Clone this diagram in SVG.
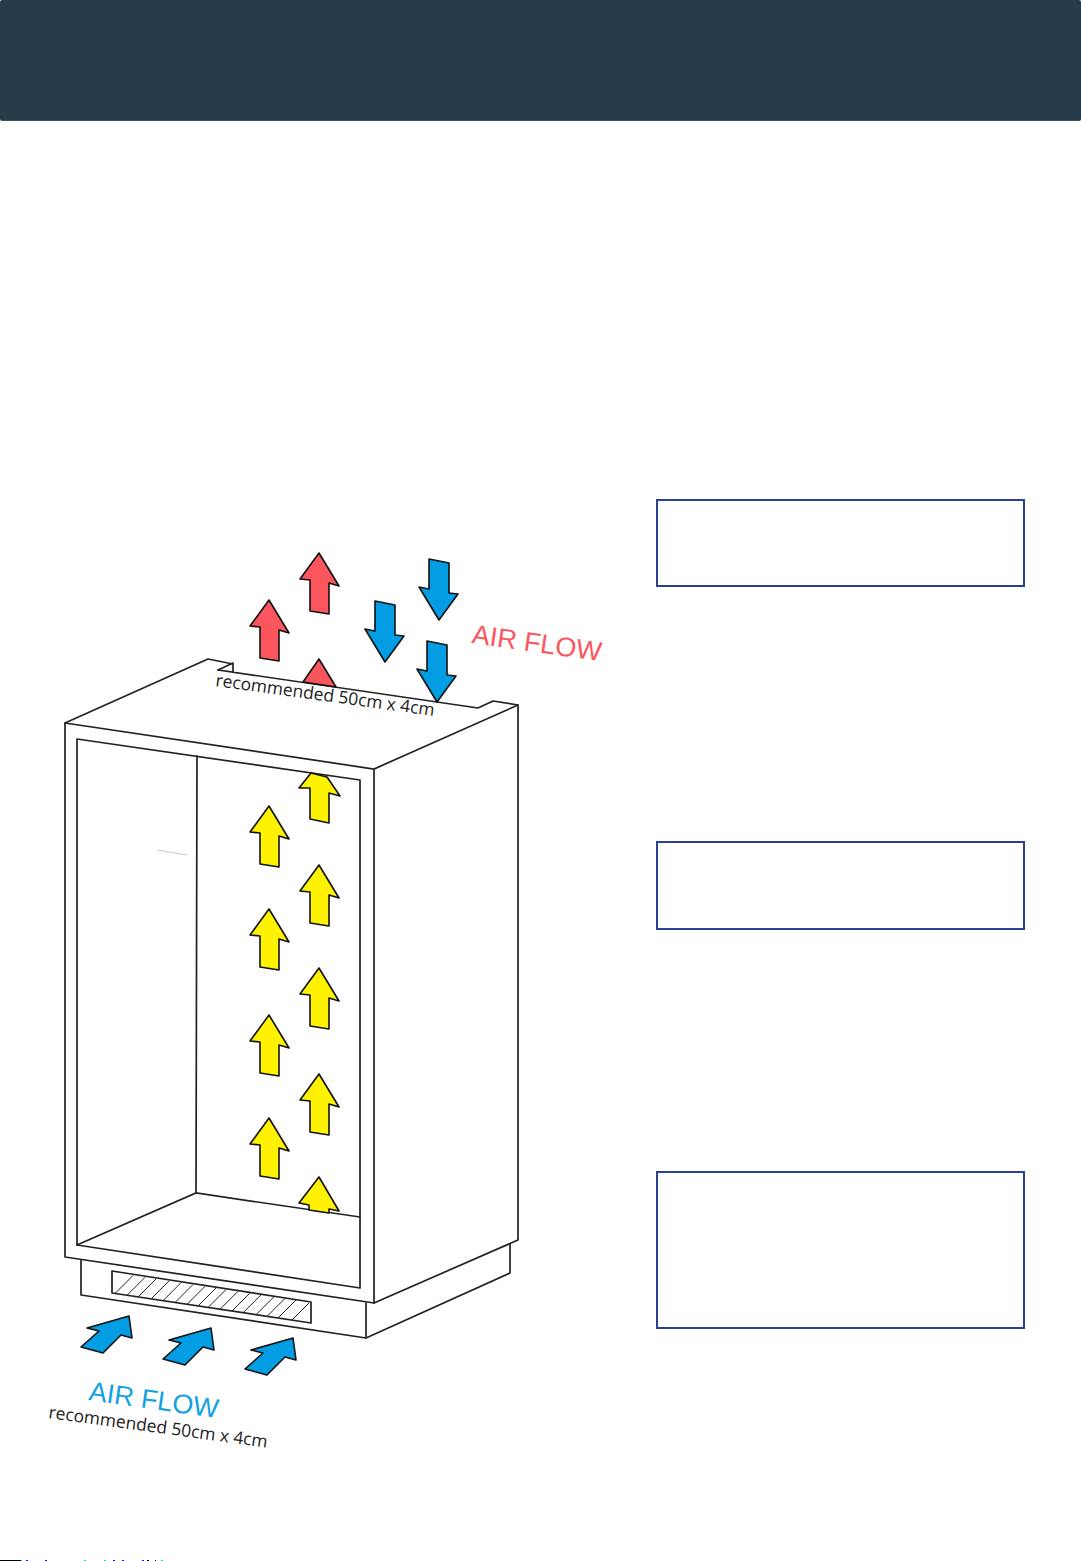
<svg xmlns="http://www.w3.org/2000/svg" width="1081" height="1561" viewBox="0 0 1081 1561">
<style>
.ln{fill:#fff;stroke:#222;stroke-width:1.7;stroke-linejoin:round}
.o{fill:none;stroke:#222;stroke-width:1.7;stroke-linecap:round}
.h{fill:none;stroke:#222;stroke-width:1}
.ar{stroke:#111;stroke-width:1.6;stroke-linejoin:round}
.red{fill:#fb565e}.blue{fill:#029de3}.yel{fill:#fff200}
.box{fill:#fff;stroke:#2a4093;stroke-width:2}
.af{font-family:"Liberation Sans",Arial,sans-serif;font-size:27px}
.rec{font-family:"Open Sans",sans-serif;font-size:17.4px;fill:#222}
</style>
<defs>
<polygon id="up" points="0,0 -19,26 -9,27 -9,58 10,61 10,30 20,33"/>
<polygon id="down" points="-10,-61 10,-57 10,-27 19,-26 0,0 -20,-33 -10,-31"/>
<polygon id="in" points="0,0 3,22 -8,19 -26,37 -48,31 -30,15 -42,12"/>
</defs>
<rect id="header" x="0" y="0" width="1081" height="121" rx="2" fill="#263b49"/>
<path d="M2,120.5H1079" stroke="#3e5462" stroke-width="1"/>
<g id="cabinet">
<polygon class="ln" points="81,1255 81,1295 366,1338 510,1273 510,1238 366,1300"/>
<path class="o" d="M366,1303V1338"/>
<polygon class="ln" points="65,723 208,659 233,664 233,672 218,670 478,708 493,701 518,705 518,1240 374,1303 65,1257"/>
<path class="o" d="M65,723L374,769L518,705M374,769V1303"/>
<path class="o" d="M218,670L233,663"/>
<polygon class="ln" points="77,739 360,780 360,1288 77,1245"/>
<path class="o" d="M197,756L196,1193M77,1245L196,1193L360,1217"/>
<path d="M157,850L187,855" fill="none" stroke="#c8c8c8" stroke-width="1"/>
</g>
<g id="grille">
<polygon class="ln" points="112,1271 112,1293 311,1323 311,1302"/>
<path class="h" d="M115,1293.5l18,-18M127,1295.3l18,-18M138,1297l18,-18M151,1299l18,-18M163,1300.7l18,-18M175,1302.5l18,-18M187,1304.3l18,-18M198,1306l18,-18M208,1307.5l18,-18M220,1309.3l18,-18M232,1311l18,-18M243,1312.8l18,-18M256,1314.7l18,-18M267,1316.4l18,-18M278,1318l18,-18M292,1320l17,-17"/>
</g>
<g id="top-arrows">
<use href="#up" class="ar red" x="319" y="553"/>
<use href="#up" class="ar red" x="269" y="600"/>
<polygon class="ar red" points="319,659 303,682 336,687"/>
<use href="#down" class="ar blue" x="439" y="620"/>
<use href="#down" class="ar blue" x="385" y="662"/>
<use href="#down" class="ar blue" x="437" y="702"/>
</g>
<g id="inner-arrows">
<polygon class="ar yel" points="311,773 327,777 340,796 329,793 329,823 310,819 310,788 299,788"/>
<use href="#up" class="ar yel" x="269" y="806"/>
<use href="#up" class="ar yel" x="319" y="865"/>
<use href="#up" class="ar yel" x="269" y="909"/>
<use href="#up" class="ar yel" x="319" y="968"/>
<use href="#up" class="ar yel" x="269" y="1015"/>
<use href="#up" class="ar yel" x="319" y="1074"/>
<use href="#up" class="ar yel" x="269" y="1118"/>
<polygon class="ar yel" points="319,1177 299,1203 309,1205 309,1210 329,1213 329,1209 339,1211"/>
</g>
<g id="inlet-arrows">
<use href="#in" class="ar blue" x="129" y="1316"/>
<use href="#in" class="ar blue" x="211" y="1328"/>
<use href="#in" class="ar blue" x="293" y="1338"/>
</g>
<g id="labels">
<text class="rec" transform="translate(215,686) rotate(7.8)">recommended 50cm x 4cm</text>
<text class="af" fill="#fb565e" transform="translate(471,643) rotate(8)">AIR FLOW</text>
<text class="af" fill="#12a1e3" transform="translate(88,1400) rotate(8)">AIR FLOW</text>
<text class="rec" transform="translate(48,1418) rotate(7.7)">recommended 50cm x 4cm</text>
</g>
<g id="boxes">
<rect id="box1" class="box" x="657" y="500" width="367" height="86"/>
<rect id="box2" class="box" x="657" y="842" width="367" height="87"/>
<rect id="box3" class="box" x="657" y="1172" width="367" height="156"/>
</g>
<g id="footer-marks">
<path d="M0,1560.5H21" stroke="#000" stroke-width="1"/>
<path d="M26,1560.5h2M45,1560.5h2M113,1560.5h2M122,1560.5h2M142,1560.5h2" stroke="#1414e0" stroke-width="1"/>
<path d="M21,1560.5h1M84,1560.5h2M104,1560.5h2M161,1560.5h2" stroke="#20d0d0" stroke-width="1"/>
<path d="M147,1560.5h2M155,1560.5h1" stroke="#000" stroke-width="1"/>
</g>
</svg>
